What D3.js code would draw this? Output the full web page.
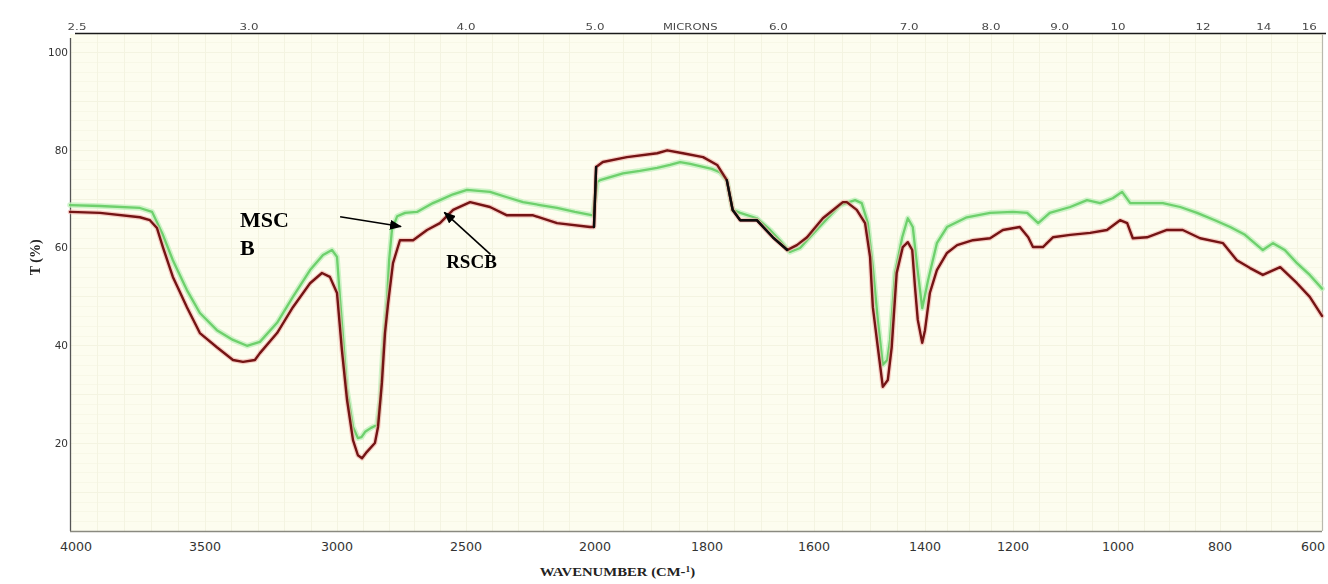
<!DOCTYPE html>
<html>
<head>
<meta charset="utf-8">
<script src="https://cdn.jsdelivr.net/npm/d3@7"></script>
<style>
  body { margin: 0; background: #ffffff; }
  svg { display: block; }
</style>
</head>
<body>
<svg id="chart" width="1328" height="584"></svg>
<script>
// ---- Spectrum data: wavenumber (cm-1) and transmittance (%) ----
const mscbWavenumber = [4000, 3889, 3741, 3696, 3656, 3619, 3567, 3519, 3455, 3394, 3341, 3292, 3227, 3167, 3102, 3053, 3019, 3000, 2988, 2961, 2938, 2919, 2905, 2891, 2868, 2845, 2833, 2822, 2806, 2798, 2787, 2767, 2736, 2690, 2628, 2601, 2550, 2496, 2407, 2341, 2279, 2213, 2147, 2078, 2008, 1996, 1991, 1950, 1920, 1889, 1866, 1848, 1830, 1807, 1791, 1776, 1763, 1752, 1738, 1707, 1682, 1664, 1645, 1626, 1613, 1584, 1553, 1526, 1514, 1503, 1494, 1485, 1476, 1468, 1463, 1454, 1441, 1431, 1422, 1414, 1405, 1393, 1373, 1350, 1305, 1252, 1200, 1173, 1152, 1130, 1091, 1059, 1034, 1010, 992, 976, 937, 912, 878, 845, 810, 780, 751, 716, 696, 673, 649, 624, 600];
const mscbTransmittance = [68.7, 68.5, 68.1, 67.3, 62.6, 57.4, 51.3, 46.6, 43.1, 41.1, 39.9, 40.7, 44.6, 49.9, 55.4, 58.5, 59.5, 58.1, 49.3, 30.8, 23.3, 21.0, 21.2, 22.3, 23.1, 23.7, 28.8, 39.0, 49.3, 57.4, 63.6, 66.4, 67.1, 67.3, 69.1, 69.7, 70.9, 71.8, 71.4, 70.3, 69.3, 68.7, 68.1, 67.3, 66.6, 73.4, 73.8, 75.2, 75.7, 76.3, 76.9, 77.5, 77.1, 76.5, 76.1, 75.4, 73.8, 67.7, 67.1, 66.0, 63.6, 61.5, 59.1, 59.9, 61.5, 65.0, 68.7, 69.7, 69.1, 65.0, 56.0, 45.2, 36.0, 37.0, 41.1, 54.8, 62.1, 66.0, 64.2, 56.0, 47.6, 53.3, 60.9, 64.2, 66.2, 67.1, 67.3, 67.1, 65.0, 67.1, 68.3, 69.7, 69.1, 70.1, 71.4, 69.1, 69.1, 69.1, 68.3, 67.1, 65.6, 64.2, 62.6, 59.5, 60.9, 59.5, 56.8, 54.4, 51.6];

const rscbWavenumber = [4000, 3889, 3741, 3704, 3678, 3656, 3619, 3567, 3519, 3455, 3394, 3356, 3311, 3292, 3227, 3167, 3102, 3057, 3027, 3000, 2981, 2961, 2938, 2919, 2903, 2884, 2853, 2841, 2826, 2814, 2802, 2783, 2756, 2705, 2651, 2601, 2550, 2484, 2407, 2341, 2240, 2147, 2019, 2004, 1998, 1986, 1943, 1889, 1871, 1843, 1807, 1781, 1763, 1752, 1738, 1707, 1677, 1650, 1632, 1613, 1584, 1548, 1541, 1523, 1508, 1499, 1494, 1485, 1476, 1467, 1460, 1451, 1440, 1431, 1423, 1418, 1413, 1405, 1400, 1389, 1373, 1350, 1327, 1291, 1252, 1223, 1187, 1171, 1162, 1143, 1124, 1091, 1053, 1021, 996, 982, 971, 943, 904, 873, 839, 794, 767, 741, 716, 682, 649, 624, 600];
const rscbTransmittance = [67.3, 67.1, 66.2, 65.6, 64.0, 60.1, 54.0, 47.8, 42.5, 39.6, 37.0, 36.6, 37.0, 38.4, 42.5, 47.8, 52.7, 54.8, 54.0, 50.7, 39.0, 28.8, 20.6, 17.5, 16.9, 18.2, 20.0, 23.3, 32.3, 42.5, 48.6, 56.8, 61.5, 61.5, 63.6, 65.0, 67.7, 69.3, 68.3, 66.6, 66.6, 65.0, 64.2, 64.2, 76.5, 77.5, 78.5, 79.3, 79.9, 79.3, 78.5, 76.9, 73.8, 67.7, 65.6, 65.6, 62.1, 59.5, 60.5, 62.1, 66.0, 69.3, 69.3, 67.7, 65.0, 58.1, 47.8, 39.6, 31.5, 32.9, 39.6, 54.8, 60.1, 61.1, 59.5, 51.9, 45.2, 40.5, 43.1, 50.7, 55.4, 58.9, 60.5, 61.5, 61.9, 63.6, 64.2, 62.1, 60.1, 60.1, 62.1, 62.6, 63.0, 63.6, 65.6, 65.0, 61.9, 62.1, 63.6, 63.6, 61.9, 60.9, 57.4, 55.8, 54.4, 56.0, 52.7, 49.9, 46.0];

// wavenumber spans where the RSCB trace prints black
const blackTraceSpans = [[2005, 1997], [1764, 1648]];

// ---- Axis tick values ----
const wavenumberTicks = [4000, 3500, 3000, 2500, 2000, 1800, 1600, 1400, 1200, 1000, 800, 600];
const micronTicks = [2.5, 3.0, 4.0, 5.0, 6.0, 7.0, 8.0, 9.0, 10, 12, 14, 16];
const micronLabels = ["2.5", "3.0", "4.0", "5.0", "6.0", "7.0", "8.0", "9.0", "10", "12", "14", "16"];
const transmittanceTicks = [20, 40, 60, 80, 100];

// ---- Annotations (placed in data coordinates) ----
const labelNotes = [
  { lines: ["MSC", "B"], wn: 3367, t: 64.2, size: 22 },
  { lines: ["RSCB"], wn: 2577, t: 55.8, size: 19 }
];
const arrowNotes = [
  { from: [2988, 66.3], to: [2752, 64.3] },
  { from: [2405, 58.6], to: [2584, 67.2] }
];

// ---- Layout ----
const plot = { left: 70, right: 1322, top: 34, bottom: 531 };
// chart paper ruling: tick positions along the wavenumber axis
const paperRuling = [70, 205, 337, 466, 595, 707, 814, 925, 1013, 1118, 1220, 1322];

const svg = d3.select("#chart");

const x = d3.scaleLinear().domain(wavenumberTicks).range(paperRuling);
const y = d3.scaleLinear().domain([2, 103.7]).range([plot.bottom, plot.top]);

const defs = svg.append("defs");
defs.append("marker")
  .attr("id", "arrowHead")
  .attr("viewBox", "0 0 12 10")
  .attr("refX", 11).attr("refY", 5)
  .attr("markerWidth", 12).attr("markerHeight", 10)
  .attr("markerUnits", "userSpaceOnUse")
  .attr("orient", "auto")
  .append("path")
  .attr("d", "M0,0 L12,5 L0,10 Z")
  .attr("fill", "#000");

// plot background
svg.append("rect")
  .attr("x", plot.left).attr("y", plot.top)
  .attr("width", plot.right - plot.left).attr("height", plot.bottom - plot.top)
  .attr("fill", "#fdfdef");

// faint chart-paper grid
const grid = svg.append("g").attr("stroke", "#eff0dc").attr("stroke-width", 1).attr("opacity", 0.7);
const vLines = d3.range(3900, 2000, -100).concat(d3.range(1950, 600, -50));
grid.selectAll("line.v").data(vLines).join("line")
  .attr("class", "v")
  .attr("x1", d => Math.round(x(d)) + 0.5).attr("x2", d => Math.round(x(d)) + 0.5)
  .attr("y1", plot.top).attr("y2", plot.bottom);
const hLines = d3.range(4, 104, 2);
grid.selectAll("line.h").data(hLines).join("line")
  .attr("class", "h")
  .attr("x1", plot.left).attr("x2", plot.right)
  .attr("y1", d => Math.round(y(d)) + 0.5).attr("y2", d => Math.round(y(d)) + 0.5)
  .attr("opacity", d => d % 10 === 0 ? 1 : 0.5);

// frame
svg.append("line").attr("x1", 75).attr("x2", 1326).attr("y1", 33.5).attr("y2", 33.5)
  .attr("stroke", "#1a1a1a").attr("stroke-width", 1.6);
svg.append("line").attr("x1", plot.left + 0.5).attr("x2", plot.left + 0.5).attr("y1", 38).attr("y2", plot.bottom)
  .attr("stroke", "#555").attr("stroke-width", 1.3);
svg.append("line").attr("x1", plot.left).attr("x2", plot.right).attr("y1", plot.bottom + 0.5).attr("y2", plot.bottom + 0.5)
  .attr("stroke", "#8a8a80").attr("stroke-width", 1.3);
svg.append("line").attr("x1", plot.right + 0.5).attr("x2", plot.right + 0.5).attr("y1", plot.top).attr("y2", plot.bottom)
  .attr("stroke", "#b9b9ad").attr("stroke-width", 1.2);

// bottom wavenumber axis
const xAxis = d3.axisBottom(x).tickValues(wavenumberTicks).tickSize(0).tickPadding(0).tickFormat(d3.format("d"));
const gx = svg.append("g").attr("transform", `translate(0,${plot.bottom})`).call(xAxis);
gx.select(".domain").remove();
gx.selectAll("text")
  .attr("font-family", "DejaVu Sans, Verdana, sans-serif")
  .attr("font-size", 11.5).attr("fill", "#333")
  .attr("dy", null).attr("y", 20).attr("x", 0);
// nudge the end labels inside the frame and stretch the type a little
gx.selectAll(".tick").each(function (d, i) {
  const t = d3.select(this);
  const base = x(d) + (i === 0 ? 6 : (i === wavenumberTicks.length - 1 ? -9 : 0));
  t.attr("transform", `translate(${base},0)`);
  t.select("text").attr("transform", "scale(1.1,1)");
});

// left transmittance axis
const yAxis = d3.axisLeft(y).tickValues(transmittanceTicks).tickSize(0).tickPadding(2);
const gy = svg.append("g").attr("transform", `translate(${plot.left},0)`).call(yAxis);
gy.select(".domain").remove();
gy.selectAll("text")
  .attr("font-family", "DejaVu Sans, Verdana, sans-serif")
  .attr("font-size", 10.5).attr("fill", "#333");

// top micron scale
const gTop = svg.append("g")
  .attr("font-family", "DejaVu Sans, Verdana, sans-serif")
  .attr("font-size", 9.5).attr("fill", "#4a4a4a");
gTop.selectAll("g.mu").data(micronTicks).join("g")
  .attr("class", "mu")
  .attr("transform", (d, i) => `translate(${x(10000 / d) + (i === 0 ? 7 : 0)},30) scale(1.25,1)`)
  .append("text")
  .attr("text-anchor", "middle")
  .text((d, i) => micronLabels[i]);
gTop.append("g")
  .attr("transform", `translate(${x(1830)},30) scale(1.22,1)`)
  .append("text").attr("text-anchor", "middle").attr("font-size", 9.5).text("MICRONS");

// axis titles
const xTitle = svg.append("text")
  .attr("transform", `translate(${x(1960)},576) scale(1.18,1)`)
  .attr("text-anchor", "middle")
  .attr("font-family", "Liberation Serif, Times New Roman, serif")
  .attr("font-weight", "bold").attr("font-size", 12.5).attr("fill", "#222");
xTitle.append("tspan").text("WAVENUMBER (CM-");
xTitle.append("tspan").attr("font-size", 8).attr("dy", -4).text("1");
xTitle.append("tspan").attr("dy", 4).text(")");

svg.append("text")
  .attr("transform", `translate(40,${y(58)}) rotate(-90)`)
  .attr("text-anchor", "middle")
  .attr("font-family", "Liberation Serif, Times New Roman, serif")
  .attr("font-weight", "bold").attr("font-size", 14).attr("fill", "#222")
  .text("T (%)");

// spectra
const line = d3.line().x(d => x(d[0])).y(d => y(d[1]));
const mscb = d3.zip(mscbWavenumber, mscbTransmittance);
const rscb = d3.zip(rscbWavenumber, rscbTransmittance);

const traces = svg.append("g").attr("fill", "none").attr("stroke-linejoin", "round").attr("stroke-linecap", "round");
traces.append("path").datum(mscb).attr("d", line).attr("stroke", "#c2f0bd").attr("stroke-width", 5.5).attr("opacity", 0.8);
traces.append("path").datum(mscb).attr("d", line).attr("stroke", "#6ed06c").attr("stroke-width", 2.3);
traces.append("path").datum(rscb).attr("d", line).attr("stroke", "#f2b4ac").attr("stroke-width", 4.8).attr("opacity", 0.65);
traces.append("path").datum(rscb).attr("d", line).attr("stroke", "#741414").attr("stroke-width", 2.4);
blackTraceSpans.forEach(([hi, lo]) => {
  traces.append("path")
    .datum(rscb.filter(d => d[0] <= hi && d[0] >= lo))
    .attr("d", line).attr("stroke", "#0d0d0d").attr("stroke-width", 2.4);
});

// annotations
const notes = svg.append("g")
  .attr("font-family", "Liberation Serif, Times New Roman, serif")
  .attr("font-weight", "bold").attr("fill", "#000");
labelNotes.forEach(n => {
  const t = notes.append("text")
    .attr("x", x(n.wn)).attr("y", y(n.t)).attr("font-size", n.size);
  n.lines.forEach((s, i) => t.append("tspan").attr("x", x(n.wn)).attr("dy", i === 0 ? 0 : 28).text(s));
});
svg.append("g").selectAll("line").data(arrowNotes).join("line")
  .attr("x1", d => x(d.from[0])).attr("y1", d => y(d.from[1]))
  .attr("x2", d => x(d.to[0])).attr("y2", d => y(d.to[1]))
  .attr("stroke", "#000").attr("stroke-width", 1.6)
  .attr("marker-end", "url(#arrowHead)");
</script>
</body>
</html>
